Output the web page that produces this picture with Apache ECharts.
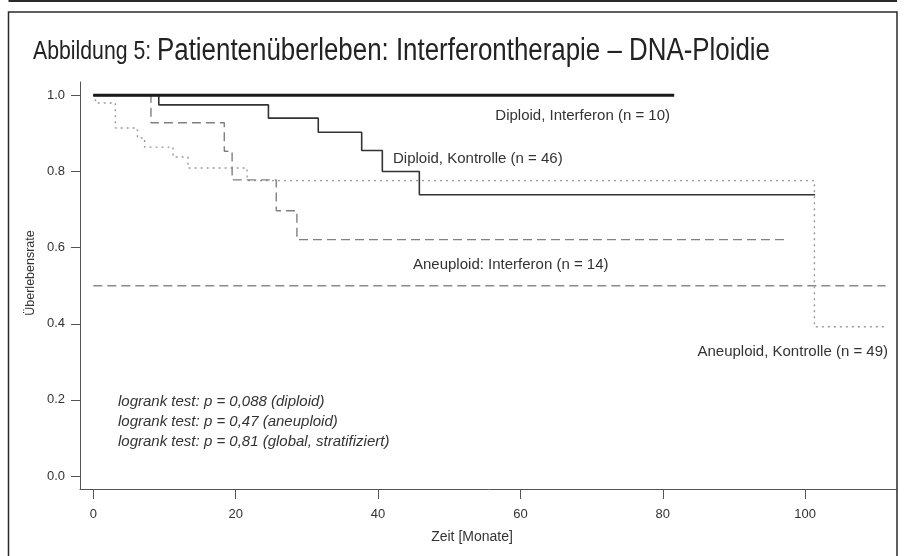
<!DOCTYPE html>
<html>
<head>
<meta charset="utf-8">
<script src="https://cdn.jsdelivr.net/npm/echarts@6/dist/echarts.min.js"></script>
<style>
  html, body { margin: 0; padding: 0; background: #fff; }
  #chart { width: 904px; height: 556px; }
</style>
</head>
<body>
<div id="chart"></div>
<script>
// Kaplan-Meier step curves: [time in months, survival rate]
const diploidInterferon = [[0, 1.0], [81.6, 1.0]];
const diploidKontrolle = [[0, 1.0], [9.2, 0.975], [24.6, 0.940], [31.6, 0.903], [37.7, 0.855], [40.6, 0.800], [45.8, 0.739], [101.4, 0.739]];
const aneuploidInterferon = [[0, 1.0], [8.1, 0.928], [18.4, 0.853], [19.5, 0.778], [25.7, 0.697], [28.6, 0.621], [97.6, 0.621]];
const aneuploidKontrolle = [[0, 1.0], [0.3, 0.980], [3.1, 0.914], [6.2, 0.888], [7.2, 0.864], [11.2, 0.838], [13.3, 0.809], [21.6, 0.776], [101.3, 0.392], [111.3, 0.392]];
const medianLine = [[0, 0.5], [111.3, 0.5]];

const xTicks = [0, 20, 40, 60, 80, 100];
const yTicks = [0, 0.2, 0.4, 0.6, 0.8, 1.0];

const curveLabels = [
  { text: 'Diploid, Interferon (n = 10)', x: 670, y: 116, align: 'right' },
  { text: 'Diploid, Kontrolle (n = 46)', x: 393, y: 159, align: 'left' },
  { text: 'Aneuploid: Interferon (n = 14)', x: 413, y: 265, align: 'left' },
  { text: 'Aneuploid, Kontrolle (n = 49)', x: 888, y: 352, align: 'right' }
];
const testLines = [
  'logrank test: p = 0,088 (diploid)',
  'logrank test: p = 0,47 (aneuploid)',
  'logrank test: p = 0,81 (global, stratifiziert)'
];

const FONT = '"Liberation Sans", Arial, Helvetica, sans-serif';
const chart = echarts.init(document.getElementById('chart'), null, { renderer: 'canvas' });

const graphics = [
  // figure frame
  { type: 'line', shape: { x1: 8.5, y1: 1, x2: 897, y2: 1 }, style: { stroke: '#2a2a2a', lineWidth: 2 } },
  { type: 'polyline', shape: { points: [[8.5, 556], [8.5, 12], [897, 12], [897, 556]] }, style: { stroke: '#2a2a2a', lineWidth: 1.5, fill: null } },
  // title
  { type: 'text', x: 33, y: 52, scaleX: 0.85, style: { text: 'Abbildung 5:', font: '300 25px ' + FONT, fill: '#222', textAlign: 'left', textVerticalAlign: 'middle' } },
  { type: 'text', x: 157, y: 51, scaleX: 0.835, style: { text: 'Patientenüberleben: Interferontherapie – DNA-Ploidie', font: '300 31px ' + FONT, fill: '#222', textAlign: 'left', textVerticalAlign: 'middle' } },
  // axis titles
  { type: 'text', x: 31, y: 273, rotation: Math.PI / 2, style: { text: 'Überlebensrate', font: '12.5px ' + FONT, fill: '#333', textAlign: 'center', textVerticalAlign: 'middle' } },
  { type: 'text', x: 472, y: 537, style: { text: 'Zeit [Monate]', font: '14px ' + FONT, fill: '#333', textAlign: 'center', textVerticalAlign: 'middle' } }
];
curveLabels.forEach(l => graphics.push({
  type: 'text', x: l.x, y: l.y,
  style: { text: l.text, font: '15px ' + FONT, fill: '#333', textAlign: l.align, textVerticalAlign: 'middle' }
}));
testLines.forEach((t, i) => graphics.push({
  type: 'text', x: 118, y: 402 + i * 20,
  style: { text: t, font: 'italic 15px ' + FONT, fill: '#333', textAlign: 'left', textVerticalAlign: 'middle' }
}));

function curve(name, data, color, width, dash) {
  return {
    name, type: 'line', step: 'end', data, symbol: 'none', silent: true,
    lineStyle: { color, width, type: dash }, z: dash === 'solid' ? 3 : 2
  };
}

chart.setOption({
  animation: false,
  backgroundColor: '#fff',
  grid: { left: 80, right: 7, top: 82, bottom: 67 },
  xAxis: {
    type: 'value', min: -1.87, max: 112.9,
    axisLine: { show: true, onZero: false, lineStyle: { color: '#555', width: 1 } },
    axisTick: { show: true, length: 10, customValues: xTicks, lineStyle: { color: '#555' } },
    axisLabel: { customValues: xTicks, margin: 19, fontSize: 13, fontFamily: FONT, color: '#333' },
    splitLine: { show: false }
  },
  yAxis: {
    type: 'value', min: -0.034, max: 1.035,
    axisLine: { show: true, onZero: false, lineStyle: { color: '#555', width: 1 } },
    axisTick: { show: true, length: 9, customValues: yTicks, lineStyle: { color: '#555' } },
    axisLabel: { customValues: yTicks, margin: 15, fontSize: 13, fontFamily: FONT, color: '#333', formatter: v => v.toFixed(1) },
    splitLine: { show: false }
  },
  series: [
    curve('Median', medianLine, '#8a8a8a', 1.4, [9, 5]),
    curve('Aneuploid, Kontrolle', aneuploidKontrolle, '#9a9a9a', 1.4, [2, 4]),
    curve('Aneuploid, Interferon', aneuploidInterferon, '#808080', 1.4, [9, 5]),
    curve('Diploid, Kontrolle', diploidKontrolle, '#333', 1.6, 'solid'),
    curve('Diploid, Interferon', diploidInterferon, '#1a1a1a', 3, 'solid')
  ],
  graphic: graphics
});
</script>
</body>
</html>
